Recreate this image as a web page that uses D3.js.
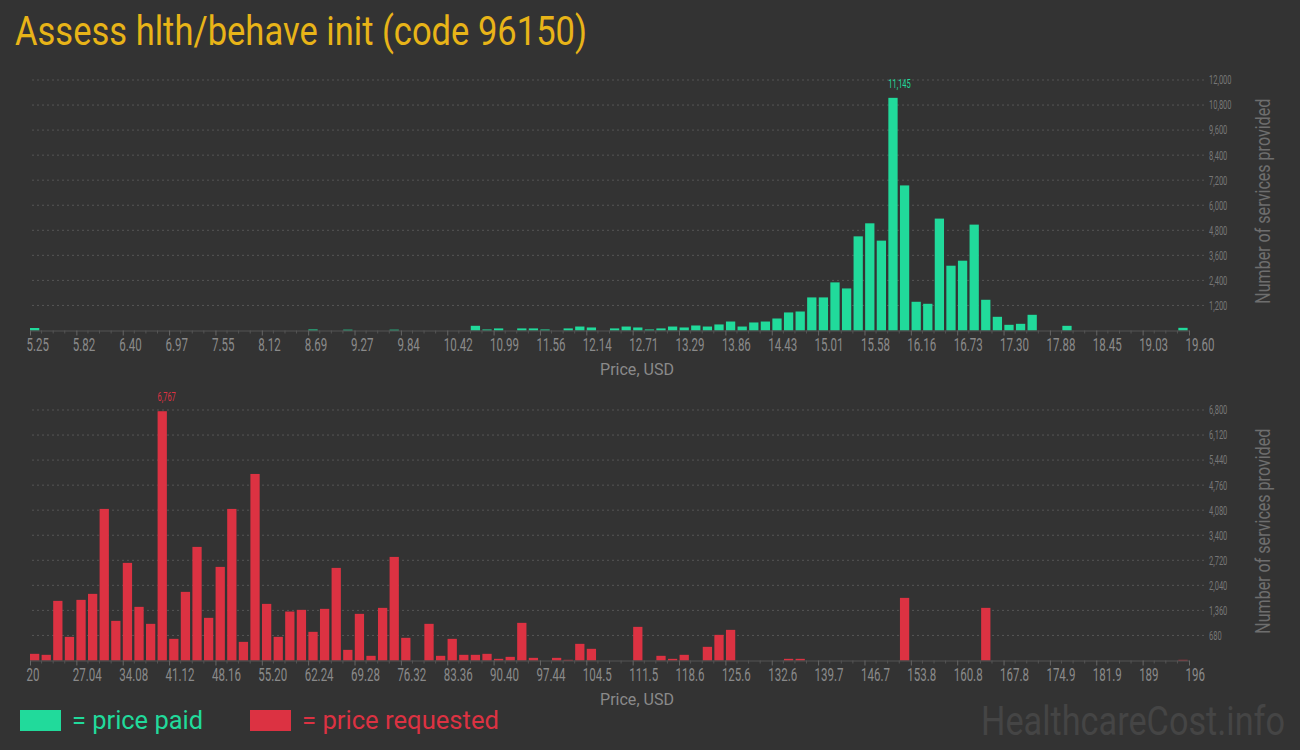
<!DOCTYPE html>
<html>
<head>
<meta charset="utf-8">
<script src="https://cdn.jsdelivr.net/npm/d3@7"></script>
<style>
  html, body { margin: 0; padding: 0; background: #333333; }
  svg { display: block; }
</style>
</head>
<body>
<div id="chart"></div>
<script>
// Data: number of services per price bin (100 bins per chart)
const paidRange = [5.25, 19.60];
const paidTicks = ['5.25','5.82','6.40','6.97','7.55','8.12','8.69','9.27','9.84','10.42','10.99','11.56','12.14',
  '12.71','13.29','13.86','14.43','15.01','15.58','16.16','16.73','17.30','17.88','18.45','19.03','19.60'];
const paidCounts = [
  120,0,0,0,0,0,0,0,0,0,
  0,0,0,0,0,0,0,0,0,0,
  0,0,0,0,50,0,0,40,0,0,
  0,40,0,0,0,0,0,0,225,50,
  100,0,100,100,50,0,100,190,145,0,
  100,190,145,50,100,190,145,240,190,290,
  430,190,385,430,575,865,910,1585,1585,2305,
  2015,4510,5135,4305,11145,6950,1376,1280,5360,3104,
  3344,5072,1472,656,272,320,752,0,0,224,
  0,0,0,0,0,0,0,0,0,128
];
const paidYTicks = [1200,2400,3600,4800,6000,7200,8400,9600,10800,12000];

const reqRange = [20, 196];
const reqTicks = ['20','27.04','34.08','41.12','48.16','55.20','62.24','69.28','76.32','83.36','90.40','97.44','104.5',
  '111.5','118.6','125.6','132.6','139.7','146.7','153.8','160.8','167.8','174.9','181.9','189','196'];
const reqCounts = [
  181,154,1619,642,1646,1809,4115,1076,2650,1456,
  995,6767,588,1863,3084,1158,2541,4115,506,5064,
  1537,642,1329,1375,778,1402,2514,289,1266,127,
  1429,2812,615,0,995,127,588,154,154,181,
  45,99,1022,72,0,72,18,452,317,0,
  0,0,913,0,127,45,154,0,371,696,
  832,0,0,0,0,45,45,0,0,0,
  0,0,0,0,0,1700,0,0,0,0,
  0,0,1429,0,0,0,0,0,0,0,
  0,0,0,0,0,0,0,0,0,18
];
const reqYTicks = [680,1360,2040,2720,3400,4080,4760,5440,6120,6800];

const width = 1300, height = 750;
const GREEN = '#21da9b', RED = '#dc3242', AXIS = '#8a8a8a';
const FONT = 'Roboto, "Noto Sans", sans-serif';

const svg = d3.select('#chart').append('svg')
  .attr('width', width).attr('height', height)
  .style('background', '#333333');

// squeeze text horizontally to mimic a condensed face
function condense(sel, k) {
  sel.each(function() {
    const w = this.getComputedTextLength();
    d3.select(this).attr('textLength', w * k).attr('lengthAdjust', 'spacingAndGlyphs');
  });
}

svg.append('text')
  .attr('x', 15).attr('y', 45)
  .style('font-family', FONT).style('font-size', '41px')
  .attr('fill', '#e8b418')
  .attr('textLength', 572).attr('lengthAdjust', 'spacingAndGlyphs')
  .text('Assess hlth/behave init (code 96150)');

function drawChart(opt) {
  const g = svg.append('g');
  const x0 = 30, x1 = 1189;

  const band = d3.scaleBand().domain(d3.range(opt.counts.length)).range([x0, x1])
    .paddingInner(0.2).paddingOuter(0.06).align(0);
  const x = d3.scaleLinear().domain(opt.range).range([x0, x1]);
  const y = d3.scaleLinear().domain([0, opt.yTicks[opt.yTicks.length - 1]]).range([opt.bottom, opt.top]);

  // grid
  g.selectAll('.grid').data(opt.yTicks).join('line')
    .attr('x1', x0 + 2).attr('x2', 1205)
    .attr('y1', d => y(d)).attr('y2', d => y(d))
    .attr('stroke', '#555').attr('stroke-width', 1).attr('stroke-dasharray', '2,3');

  g.selectAll('.ylab').data(opt.yTicks).join('text')
    .attr('x', 1209).attr('y', d => y(d)).attr('dy', '0.35em')
    .style('font-family', FONT).style('font-size', '12.5px')
    .attr('fill', '#777')
    .text(d => d3.format(',')(d))
    .call(condense, 0.6);

  // bars
  g.selectAll('.bar').data(opt.counts).join('rect')
    .attr('x', (d, i) => band(i))
    .attr('width', band.bandwidth())
    .attr('y', d => y(d))
    .attr('height', d => opt.bottom - y(d))
    .attr('fill', opt.color);

  // x axis
  const step = (opt.range[1] - opt.range[0]) / (opt.ticks.length - 1);
  const tickVals = opt.ticks.map((t, i) => opt.range[0] + i * step);
  const minorVals = d3.range(opt.counts.length + 1).filter(i => i % 4).map(i => opt.range[0] + i * step / 4);

  const ax = g.append('g').attr('transform', `translate(0,${opt.bottom})`)
    .call(d3.axisBottom(x).tickValues(tickVals).tickFormat((d, i) => opt.ticks[i]).tickSize(5).tickSizeOuter(0));
  ax.select('.domain').attr('stroke', '#555');
  ax.selectAll('.tick line').attr('stroke', '#666');
  ax.selectAll('.tick text')
    .attr('text-anchor', 'start').attr('x', -4).attr('y', 8).attr('dy', '0.71em')
    .style('font-family', FONT).style('font-size', '18px')
    .attr('fill', AXIS)
    .call(condense, 0.64);

  g.selectAll('.minor').data(minorVals).join('line')
    .attr('x1', d => x(d)).attr('x2', d => x(d))
    .attr('y1', opt.bottom).attr('y2', opt.bottom + 3)
    .attr('stroke', '#555');

  g.append('text')
    .attr('x', 637).attr('y', opt.bottom + 44)
    .attr('text-anchor', 'middle')
    .style('font-family', FONT).style('font-size', '17px')
    .attr('fill', AXIS)
    .attr('textLength', 74).attr('lengthAdjust', 'spacingAndGlyphs')
    .text('Price, USD');

  g.append('text')
    .attr('transform', `translate(1270,${(opt.top + opt.bottom) / 2 - 4}) rotate(-90)`)
    .attr('text-anchor', 'middle')
    .style('font-family', FONT).style('font-size', '20px')
    .attr('fill', '#6e6e6e')
    .attr('textLength', 205).attr('lengthAdjust', 'spacingAndGlyphs')
    .text('Number of services provided');

  // max label
  const iMax = d3.maxIndex(opt.counts);
  g.append('text')
    .attr('x', band(iMax)).attr('y', y(opt.counts[iMax]) - 10)
    .style('font-family', FONT).style('font-size', '12px')
    .attr('fill', opt.color)
    .text(d3.format(',')(opt.counts[iMax]))
    .call(condense, 0.62);
}

drawChart({ counts: paidCounts, range: paidRange, ticks: paidTicks, yTicks: paidYTicks,
  top: 80, bottom: 330.5, color: GREEN });
drawChart({ counts: reqCounts, range: reqRange, ticks: reqTicks, yTicks: reqYTicks,
  top: 410, bottom: 660.5, color: RED });

// legend
const legend = [
  { label: '= price paid', color: GREEN, x: 20, w: 131 },
  { label: '= price requested', color: RED, x: 250, w: 197 }
];
legend.forEach(l => {
  svg.append('rect').attr('x', l.x).attr('y', 710).attr('width', 41).attr('height', 21).attr('fill', l.color);
  svg.append('text').attr('x', l.x + 52).attr('y', 729)
    .style('font-family', FONT).style('font-size', '26px')
    .attr('fill', l.color)
    .attr('textLength', l.w).attr('lengthAdjust', 'spacingAndGlyphs')
    .text(l.label);
});

svg.append('text')
  .attr('x', 981).attr('y', 735)
  .style('font-family', FONT).style('font-size', '40px')
  .attr('fill', '#454545')
  .attr('textLength', 304).attr('lengthAdjust', 'spacingAndGlyphs')
  .text('HealthcareCost.info');
</script>
</body>
</html>
